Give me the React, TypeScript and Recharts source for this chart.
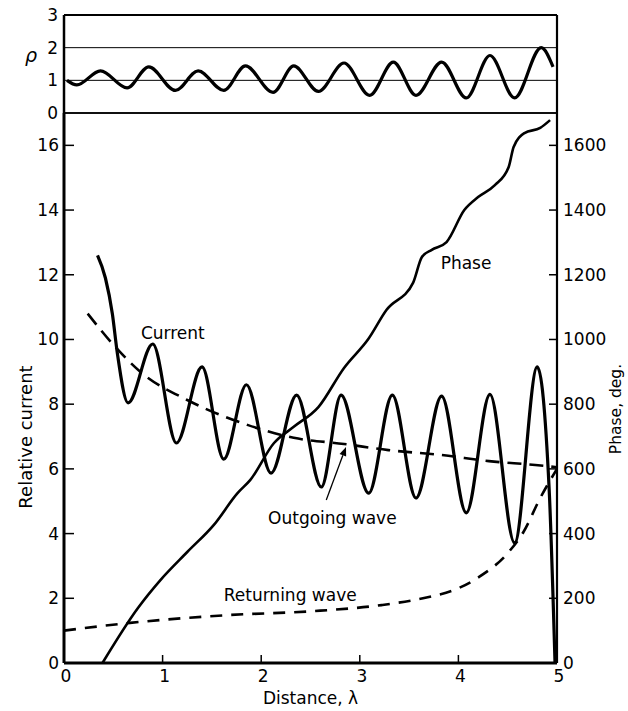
import React from "react"
import { LineChart, Line, XAxis, YAxis, ReferenceLine, ReferenceDot, Label } from "recharts"

const FONT = "'DejaVu Sans', sans-serif"

// standing wave ratio along the line (top panel)
const rhoDist = [0.03, 0.13, 0.37, 0.64, 0.86, 1.13, 1.36, 1.62, 1.84, 2.12, 2.33, 2.58, 2.84, 3.1, 3.34, 3.57, 3.83, 4.08, 4.32, 4.57, 4.84, 4.96]
const rhoVals = [1.0, 0.86, 1.29, 0.77, 1.41, 0.69, 1.29, 0.69, 1.44, 0.63, 1.44, 0.66, 1.53, 0.54, 1.56, 0.54, 1.56, 0.46, 1.76, 0.46, 2.0, 1.41]
const rhoTicks = [0, 1, 2, 3]

// relative current
const currentDist = [0.34, 0.42, 0.49, 0.54, 0.65, 0.9, 1.14, 1.4, 1.62, 1.85, 2.1, 2.36, 2.61, 2.81, 3.09, 3.33, 3.57, 3.83, 4.08, 4.32, 4.57, 4.8, 4.92, 4.98]
const currentVals = [12.6, 11.9, 10.8, 9.6, 8.04, 9.86, 6.8, 9.15, 6.3, 8.6, 5.87, 8.28, 5.44, 8.28, 5.25, 8.28, 5.1, 8.25, 4.64, 8.3, 3.71, 9.15, 5.4, 0]

const outgoingDist = [0.24, 0.52, 0.79, 1.25, 1.86, 2.33, 2.84, 3.29, 3.83, 4.31, 4.78, 5.0]
const outgoingVals = [10.8, 9.77, 8.96, 8.13, 7.36, 6.96, 6.77, 6.58, 6.43, 6.24, 6.12, 6.05]

const returningDist = [0, 0.67, 1.66, 2.51, 3.22, 3.7, 3.96, 4.21, 4.51, 4.66, 4.83, 5.0]
const returningVals = [1.0, 1.24, 1.48, 1.6, 1.79, 2.04, 2.26, 2.66, 3.43, 4.05, 5.1, 6.0]

// phase, degrees (right axis)
const phaseDist = [0.39, 0.75, 0.98, 1.25, 1.52, 1.76, 1.89, 2.13, 2.33, 2.58, 2.84, 3.09, 3.27, 3.54, 3.63, 3.73, 3.88, 4.06, 4.2, 4.37, 4.51, 4.56, 4.67, 4.83, 4.93]
const phaseVals = [0, 170, 257, 343, 427, 525, 566, 680, 730, 791, 912, 1003, 1091, 1175, 1255, 1277, 1301, 1400, 1440, 1477, 1533, 1595, 1638, 1654, 1678]

const distTicks = [0, 1, 2, 3, 4, 5]
const currentTicks = [0, 2, 4, 6, 8, 10, 12, 14, 16]
const phaseTicks = [0, 200, 400, 600, 800, 1000, 1200, 1400, 1600]

const zip = (xs: number[], ys: number[]) => xs.map((d, i) => ({ d, v: ys[i] }))

const rhoData = zip(rhoDist, rhoVals)
const currentData = zip(currentDist, currentVals)
const outgoingData = zip(outgoingDist, outgoingVals)
const returningData = zip(returningDist, returningVals)
const phaseData = zip(phaseDist, phaseVals)

const notes = [
  { text: "Current", d: 0.78, v: 10.2 },
  { text: "Phase", d: 3.82, v: 12.36 },
  { text: "Outgoing wave", d: 2.07, v: 4.48 },
  { text: "Returning wave", d: 1.62, v: 2.1 },
]

const txt = { fontSize: 17, fontFamily: FONT, fill: "#000" }

function RhoTick({ x, y, payload }: any) {
  return (
    <text x={x - 6} y={y} textAnchor="end" dominantBaseline="central" {...txt}>
      {payload.value}
    </text>
  )
}

function LeftTick({ x, y, payload }: any) {
  return (
    <g>
      <line x1={x} y1={y} x2={x + 10} y2={y} stroke="#000" strokeWidth={1.5} />
      <text x={x - 5} y={y} textAnchor="end" dominantBaseline="central" {...txt}>
        {payload.value}
      </text>
    </g>
  )
}

function RightTick({ x, y, payload }: any) {
  return (
    <g>
      <line x1={x} y1={y} x2={x - 8} y2={y} stroke="#000" strokeWidth={1.5} />
      <text x={x + 6} y={y} textAnchor="start" dominantBaseline="central" {...txt}>
        {payload.value}
      </text>
    </g>
  )
}

function BottomTick({ x, y, payload }: any) {
  return (
    <g>
      <line x1={x} y1={y} x2={x} y2={y - 8} stroke="#000" strokeWidth={1.5} />
      <text x={x + 2} y={y + 13} textAnchor="middle" dominantBaseline="central" {...txt}>
        {payload.value}
      </text>
    </g>
  )
}

function Arrow(props: any) {
  const { x1, y1, x2, y2 } = props
  const a = Math.atan2(y2 - y1, x2 - x1)
  const L = 9
  const W = 3.5
  const bx = x2 - L * Math.cos(a)
  const by = y2 - L * Math.sin(a)
  const px = -Math.sin(a) * W
  const py = Math.cos(a) * W
  return (
    <g>
      <line x1={x1} y1={y1} x2={bx} y2={by} stroke="#000" strokeWidth={1.3} />
      <polygon points={`${x2},${y2} ${bx + px},${by + py} ${bx - px},${by - py}`} fill="#000" />
    </g>
  )
}

export default function App() {
  return (
    <div style={{ position: "absolute", left: 0, top: 0, width: 628, height: 711, background: "#fff" }}>
      <div style={{ position: "absolute", left: 0, top: 0 }}>
        <LineChart width={628} height={125} margin={{ top: 15, right: 71, left: 0, bottom: 12 }}>
          <XAxis type="number" dataKey="d" domain={[0, 5]} hide />
          <YAxis
            type="number"
            domain={[0, 3]}
            ticks={rhoTicks}
            width={64}
            tickSize={0}
            tickMargin={0}
            tickLine={false}
            tick={<RhoTick />}
            axisLine={{ stroke: "#000", strokeWidth: 2.5 }}
          >
            <Label
              content={() => (
                <text x={31} y={55} textAnchor="middle" dominantBaseline="central" fontStyle="italic" fontSize={19} fontFamily={FONT}>
                  ρ
                </text>
              )}
            />
          </YAxis>
          <ReferenceLine y={3} stroke="#000" strokeWidth={2.2} />
          <ReferenceLine y={2} stroke="#000" strokeWidth={1} />
          <ReferenceLine y={1} stroke="#000" strokeWidth={1} />
          <ReferenceLine y={0} stroke="#000" strokeWidth={1.3} />
          <ReferenceLine x={5} stroke="#000" strokeWidth={2.2} />
          <Line
            data={rhoData}
            dataKey="v"
            type="monotone"
            stroke="#000"
            strokeWidth={3.2}
            dot={false}
            isAnimationActive={false}
          />
        </LineChart>
      </div>
      <div style={{ position: "absolute", left: 0, top: 100 }}>
        <LineChart width={628} height={611} margin={{ top: 13, right: 0, left: 0, bottom: 0 }}>
          <XAxis
            type="number"
            dataKey="d"
            domain={[0, 5]}
            ticks={distTicks}
            height={48}
            tickSize={0}
            tickMargin={0}
            tickLine={false}
            tick={<BottomTick />}
            axisLine={{ stroke: "#000", strokeWidth: 3 }}
          >
            <Label value="Distance, λ" position="insideBottom" offset={7} style={{ ...txt }} />
          </XAxis>
          <YAxis
            yAxisId="left"
            type="number"
            domain={[0, 17]}
            ticks={currentTicks}
            width={64}
            tickSize={0}
            tickMargin={0}
            tickLine={false}
            tick={<LeftTick />}
            axisLine={{ stroke: "#000", strokeWidth: 3 }}
          >
            <Label
              content={() => (
                <text transform="translate(25,337) rotate(-90)" textAnchor="middle" dominantBaseline="central" fontSize={18} fontFamily={FONT}>
                  Relative current
                </text>
              )}
            />
          </YAxis>
          <YAxis
            yAxisId="right"
            orientation="right"
            type="number"
            domain={[0, 1700]}
            ticks={phaseTicks}
            width={71}
            tickSize={0}
            tickMargin={0}
            tickLine={false}
            tick={<RightTick />}
            axisLine={{ stroke: "#000", strokeWidth: 2.2 }}
          >
            <Label
              content={() => (
                <text transform="translate(616,309) rotate(-90)" textAnchor="middle" dominantBaseline="central" fontSize={15.5} fontFamily={FONT}>
                  Phase, deg.
                </text>
              )}
            />
          </YAxis>
          <ReferenceLine yAxisId="left" y={17} stroke="#000" strokeWidth={1.3} />
          <Line
            yAxisId="left"
            data={returningData}
            dataKey="v"
            type="monotone"
            stroke="#000"
            strokeWidth={2.6}
            strokeDasharray="12 9"
            dot={false}
            isAnimationActive={false}
          />
          <Line
            yAxisId="left"
            data={outgoingData}
            dataKey="v"
            type="monotone"
            stroke="#000"
            strokeWidth={2.6}
            strokeDasharray="14 8"
            dot={false}
            isAnimationActive={false}
          />
          <Line
            yAxisId="right"
            data={phaseData}
            dataKey="v"
            type="monotone"
            stroke="#000"
            strokeWidth={2.6}
            dot={false}
            isAnimationActive={false}
          />
          <Line
            yAxisId="left"
            data={currentData}
            dataKey="v"
            type="monotone"
            stroke="#000"
            strokeWidth={3.2}
            dot={false}
            isAnimationActive={false}
          />
          <ReferenceLine
            yAxisId="left"
            segment={[
              { x: 2.66, y: 5.04 },
              { x: 2.86, y: 6.68 },
            ]}
            shape={<Arrow />}
          />
          {notes.map((n) => (
            <ReferenceDot
              key={n.text}
              yAxisId="left"
              x={n.d}
              y={n.v}
              r={0}
              shape={(p: any) => (
                <text x={p.cx} y={p.cy} textAnchor="start" dominantBaseline="central" {...txt}>
                  {n.text}
                </text>
              )}
            />
          ))}
        </LineChart>
      </div>
    </div>
  )
}
